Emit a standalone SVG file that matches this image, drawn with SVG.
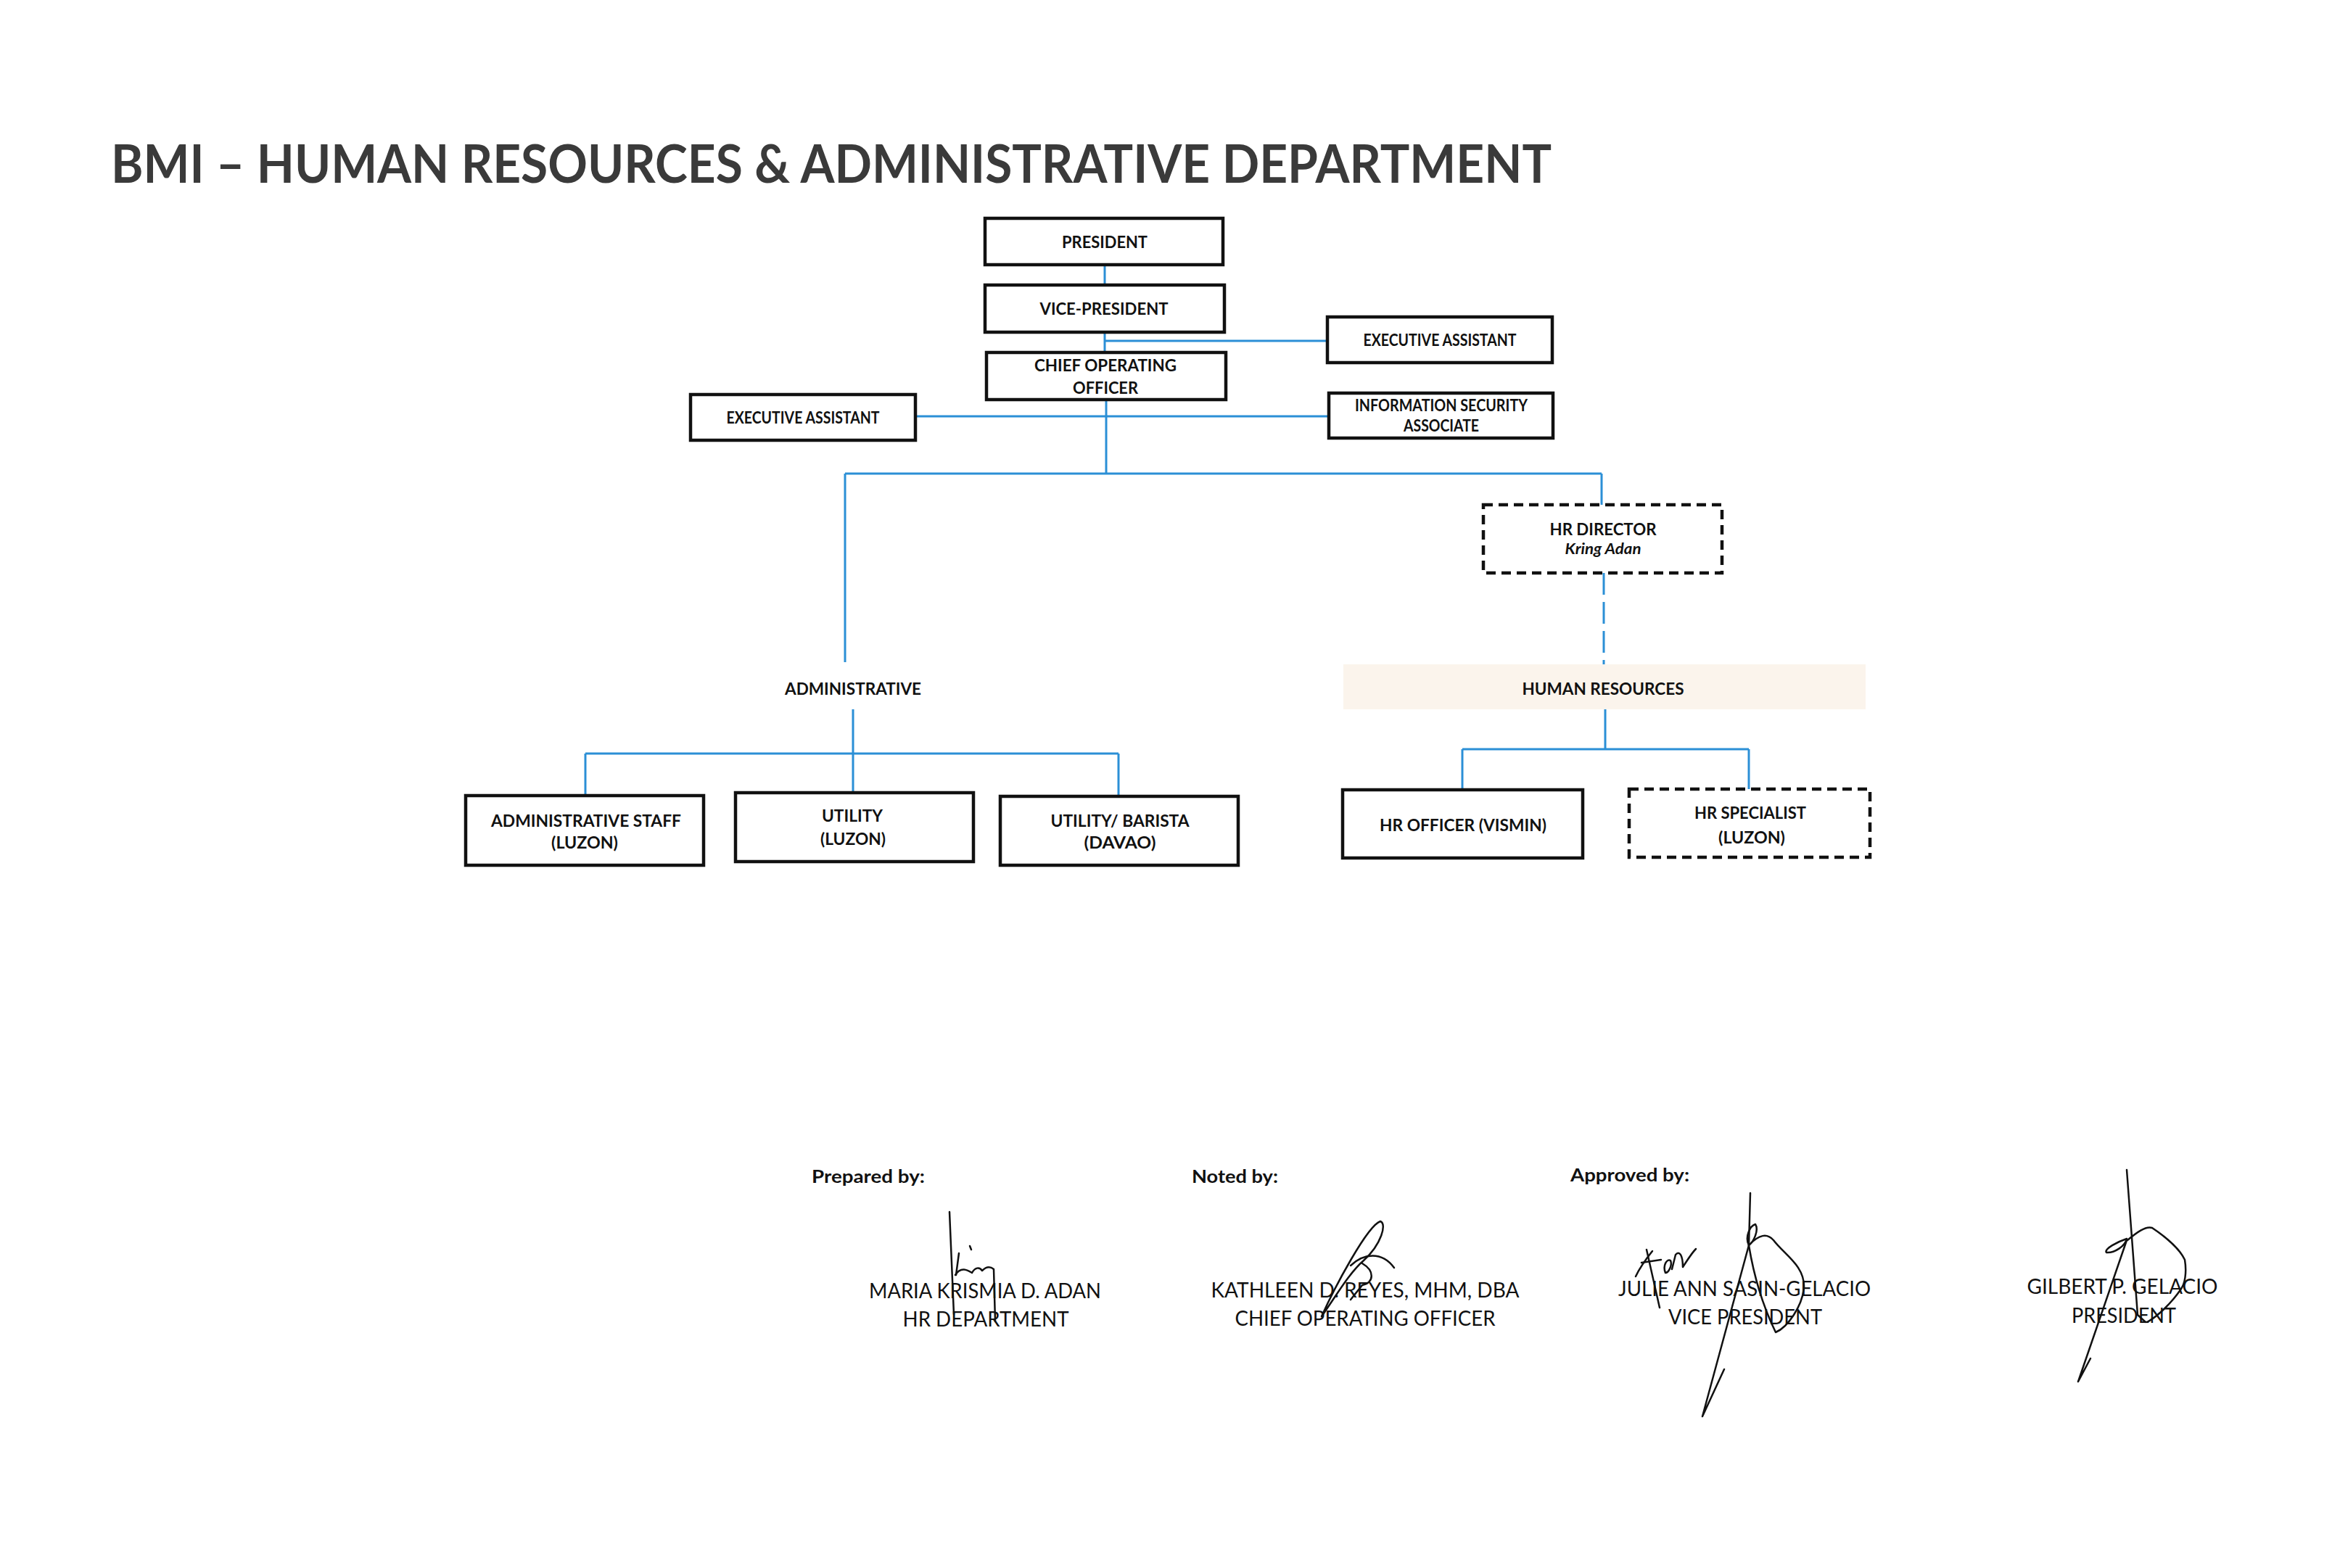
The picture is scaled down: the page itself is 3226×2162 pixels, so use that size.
<svg xmlns="http://www.w3.org/2000/svg" width="3226" height="2162" viewBox="0 0 3226 2162">
<style>
.bg{fill:#ffffff}
.box{fill:#ffffff;stroke:#111111;stroke-width:4.5}
.dbox{fill:#ffffff;stroke:#111111;stroke-width:4.5;stroke-dasharray:13 8}
.band{fill:#fbf4ec}
.lbl{font-family:Lato,"Open Sans","Liberation Sans",sans-serif;font-weight:700;font-size:22px;fill:#111111;text-anchor:middle}
.ital{font-style:italic;font-size:20px}
.title{font-family:Lato,"Open Sans","Liberation Sans",sans-serif;font-weight:700;font-size:72px;fill:#3a3a3a}
.sigh{font-family:Lato,"Open Sans","Liberation Sans",sans-serif;font-weight:700;font-size:25px;fill:#111111}
.sign{font-family:Lato,"Open Sans","Liberation Sans",sans-serif;font-weight:400;font-size:28px;fill:#111111;text-anchor:middle}
.con{fill:none;stroke:#2b8fd6;stroke-width:3}
.dcon{fill:none;stroke:#2b8fd6;stroke-width:3;stroke-dasharray:30 10}
.ink{fill:none;stroke:#111111;stroke-width:2.5;stroke-linecap:round;stroke-linejoin:round}
</style>
<rect class="bg" x="0" y="0" width="3226" height="2162"/>
<text class="title" x="153" y="252" textLength="1986" lengthAdjust="spacingAndGlyphs">BMI – HUMAN RESOURCES &amp; ADMINISTRATIVE DEPARTMENT</text>

<g id="connectors">
<path class="con" d="M1523,365 V393"/>
<path class="con" d="M1523,458 V486"/>
<path class="con" d="M1523,470 H1830"/>
<path class="con" d="M1525,551 V653"/>
<path class="con" d="M1262,574 H1832"/>
<path class="con" d="M1165,653 H2208"/>
<path class="con" d="M1165,653 V913"/>
<path class="con" d="M2208,653 V696"/>
<path class="dcon" d="M2211,790 V918"/>
<path class="con" d="M1176,978 V1093"/>
<path class="con" d="M807,1039 H1542"/>
<path class="con" d="M807,1039 V1097"/>
<path class="con" d="M1542,1039 V1098"/>
<path class="con" d="M2213,978 V1033"/>
<path class="con" d="M2016,1033 H2411"/>
<path class="con" d="M2016,1033 V1089"/>
<path class="con" d="M2411,1033 V1088"/>
</g>

<g id="president">
<rect class="box" x="1358" y="301" width="328" height="64"/>
<text class="lbl" x="1523" y="342" textLength="118" lengthAdjust="spacingAndGlyphs">PRESIDENT</text>
</g>
<g id="vice-president">
<rect class="box" x="1358" y="393" width="330" height="65"/>
<text class="lbl" x="1522" y="434" textLength="177" lengthAdjust="spacingAndGlyphs">VICE-PRESIDENT</text>
</g>
<g id="coo">
<rect class="box" x="1360" y="486" width="330" height="65"/>
<text class="lbl" x="1524" y="512" textLength="196" lengthAdjust="spacingAndGlyphs">CHIEF OPERATING</text>
<text class="lbl" x="1524" y="543" textLength="90" lengthAdjust="spacingAndGlyphs">OFFICER</text>
</g>
<g id="exec-assistant-right">
<rect class="box" x="1830" y="437" width="310" height="63"/>
<text class="lbl" x="1985" y="477" font-size="21" textLength="211" lengthAdjust="spacingAndGlyphs">EXECUTIVE ASSISTANT</text>
</g>
<g id="exec-assistant-left">
<rect class="box" x="952" y="544" width="310" height="63"/>
<text class="lbl" x="1107" y="584" font-size="21" textLength="211" lengthAdjust="spacingAndGlyphs">EXECUTIVE ASSISTANT</text>
</g>
<g id="info-security">
<rect class="box" x="1832" y="542" width="309" height="62"/>
<text class="lbl" x="1987" y="567" font-size="21" textLength="238" lengthAdjust="spacingAndGlyphs">INFORMATION SECURITY</text>
<text class="lbl" x="1987" y="595" font-size="21" textLength="104" lengthAdjust="spacingAndGlyphs">ASSOCIATE</text>
</g>
<g id="hr-director">
<rect class="dbox" x="2045" y="696" width="329" height="94"/>
<text class="lbl" x="2210" y="738" textLength="147" lengthAdjust="spacingAndGlyphs">HR DIRECTOR</text>
<text class="lbl ital" x="2210" y="764" textLength="105" lengthAdjust="spacingAndGlyphs">Kring Adan</text>
</g>
<g id="administrative">
<text class="lbl" x="1176" y="958" textLength="188" lengthAdjust="spacingAndGlyphs">ADMINISTRATIVE</text>
</g>
<g id="human-resources">
<rect class="band" x="1852" y="916" width="720" height="62"/>
<text class="lbl" x="2210" y="958" textLength="223" lengthAdjust="spacingAndGlyphs">HUMAN RESOURCES</text>
</g>
<g id="admin-staff">
<rect class="box" x="642" y="1097" width="328" height="96"/>
<text class="lbl" x="808" y="1140" textLength="262" lengthAdjust="spacingAndGlyphs">ADMINISTRATIVE STAFF</text>
<text class="lbl" x="806" y="1170" textLength="92" lengthAdjust="spacingAndGlyphs">(LUZON)</text>
</g>
<g id="utility">
<rect class="box" x="1014" y="1093" width="328" height="95"/>
<text class="lbl" x="1175" y="1133" textLength="84" lengthAdjust="spacingAndGlyphs">UTILITY</text>
<text class="lbl" x="1176" y="1165" textLength="90" lengthAdjust="spacingAndGlyphs">(LUZON)</text>
</g>
<g id="utility-barista">
<rect class="box" x="1379" y="1098" width="328" height="95"/>
<text class="lbl" x="1544" y="1140" textLength="191" lengthAdjust="spacingAndGlyphs">UTILITY/ BARISTA</text>
<text class="lbl" x="1544" y="1170" textLength="99" lengthAdjust="spacingAndGlyphs">(DAVAO)</text>
</g>
<g id="hr-officer">
<rect class="box" x="1851" y="1089" width="331" height="94"/>
<text class="lbl" x="2017" y="1146" textLength="230" lengthAdjust="spacingAndGlyphs">HR OFFICER (VISMIN)</text>
</g>
<g id="hr-specialist">
<rect class="dbox" x="2246" y="1088" width="332" height="94"/>
<text class="lbl" x="2413" y="1129" textLength="154" lengthAdjust="spacingAndGlyphs">HR SPECIALIST</text>
<text class="lbl" x="2415" y="1163" textLength="92" lengthAdjust="spacingAndGlyphs">(LUZON)</text>
</g>

<g id="signatures">
<text class="sigh" x="1119" y="1631" textLength="156" lengthAdjust="spacingAndGlyphs">Prepared by:</text>
<text class="sigh" x="1643" y="1631" textLength="119" lengthAdjust="spacingAndGlyphs">Noted by:</text>
<text class="sigh" x="2165" y="1629" textLength="164" lengthAdjust="spacingAndGlyphs">Approved by:</text>

<text class="sign" x="1358" y="1790" textLength="320" lengthAdjust="spacingAndGlyphs">MARIA KRISMIA D. ADAN</text>
<text class="sign" x="1359" y="1829" textLength="229" lengthAdjust="spacingAndGlyphs">HR DEPARTMENT</text>
<text class="sign" x="1882" y="1789" textLength="425" lengthAdjust="spacingAndGlyphs">KATHLEEN D. REYES, MHM, DBA</text>
<text class="sign" x="1882" y="1828" textLength="359" lengthAdjust="spacingAndGlyphs">CHIEF OPERATING OFFICER</text>
<text class="sign" x="2405" y="1787" textLength="348" lengthAdjust="spacingAndGlyphs">JULIE ANN SASIN-GELACIO</text>
<text class="sign" x="2406" y="1826" textLength="212" lengthAdjust="spacingAndGlyphs">VICE PRESIDENT</text>
<text class="sign" x="2926" y="1784" textLength="263" lengthAdjust="spacingAndGlyphs">GILBERT P. GELACIO</text>
<text class="sign" x="2928" y="1824" textLength="144" lengthAdjust="spacingAndGlyphs">PRESIDENT</text>

<path class="ink" d="M1309,1671 L1315,1812"/>
<path class="ink" d="M1318,1758 L1322,1728"/>
<path class="ink" d="M1317,1758 C1325,1745 1335,1752 1340,1755 C1344,1748 1350,1746 1354,1752 C1358,1748 1364,1745 1370,1750 L1372,1822"/>
<path class="ink" d="M1337,1718 L1339,1723"/>

<path class="ink" d="M1822,1815 C1840,1775 1885,1690 1903,1684 C1912,1687 1905,1715 1880,1738 C1860,1755 1840,1790 1822,1815"/>
<path class="ink" d="M1862,1745 C1880,1728 1905,1725 1922,1748"/>
<path class="ink" d="M1878,1742 C1895,1752 1895,1768 1878,1772 L1862,1792"/>

<path class="ink" d="M2255,1760 C2262,1745 2270,1735 2278,1725"/>
<path class="ink" d="M2263,1741 L2290,1737"/>
<path class="ink" d="M2270,1723 L2288,1803"/>
<path class="ink" d="M2296,1755 C2292,1745 2298,1735 2303,1738 C2306,1745 2300,1755 2296,1755"/>
<path class="ink" d="M2305,1750 L2310,1730 C2315,1724 2320,1730 2320,1747 C2326,1738 2332,1728 2338,1722"/>

<path class="ink" d="M2413,1645 L2411,1717"/>
<path class="ink" d="M2411,1717 C2405,1705 2413,1690 2420,1688 C2425,1696 2418,1712 2411,1717"/>
<path class="ink" d="M2411,1717 C2425,1702 2436,1700 2445,1710 C2460,1730 2488,1745 2487,1775 C2485,1800 2465,1830 2448,1837 C2430,1800 2418,1760 2411,1717"/>
<path class="ink" d="M2411,1717 L2347,1953 L2377,1888"/>

<path class="ink" d="M2932,1613 L2947,1813 L2958,1823"/>
<path class="ink" d="M2932,1708 C2920,1712 2900,1722 2904,1727 C2915,1728 2930,1718 2932,1708"/>
<path class="ink" d="M2933,1710 C2945,1700 2958,1690 2967,1693 C2985,1705 3005,1722 3012,1737 C3015,1755 3012,1770 3007,1777 C2995,1795 2975,1815 2960,1823"/>
<path class="ink" d="M2932,1710 L2865,1905 L2882,1873"/>
</g>
</svg>
